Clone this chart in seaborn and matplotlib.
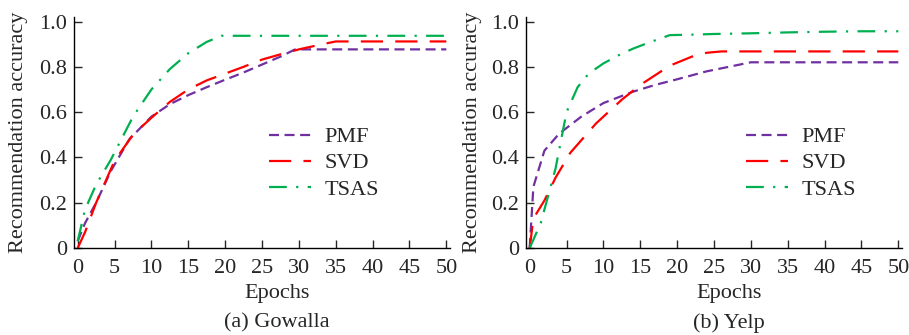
import matplotlib
matplotlib.use('Agg')
import matplotlib.pyplot as plt
import seaborn as sns

# --- Data ---
GOWALLA_PMF_X = [0, 1, 2.5, 4.5, 7, 10, 12.5, 15, 17.5, 20, 22.5, 25, 27.5, 29.5, 35, 40, 45, 50]
GOWALLA_PMF_Y = [0.03, 0.11, 0.2, 0.34, 0.48, 0.58, 0.635, 0.675, 0.71, 0.743, 0.775, 0.81, 0.845, 0.877, 0.877, 0.877, 0.877, 0.877]

GOWALLA_SVD_X = [0, 1, 2.5, 5, 7.5, 10, 12.5, 15, 17.5, 20, 22.5, 25, 27.5, 30, 32.5, 35, 40, 45, 50]
GOWALLA_SVD_Y = [0.0, 0.07, 0.2, 0.385, 0.5, 0.575, 0.645, 0.7, 0.74, 0.77, 0.8, 0.832, 0.855, 0.877, 0.895, 0.912, 0.912, 0.912, 0.912]

GOWALLA_TSAS_X = [0, 1, 2.5, 4.5, 7.5, 10, 12.5, 15, 17.5, 19.5, 25, 30, 35, 40, 45, 50]
GOWALLA_TSAS_Y = [0.03, 0.17, 0.28, 0.39, 0.58, 0.7, 0.79, 0.86, 0.91, 0.937, 0.937, 0.937, 0.937, 0.937, 0.937, 0.937]

YELP_PMF_X = [0, 0.5, 2, 4, 7, 10, 14, 17, 20, 24, 27, 30, 35, 40, 45, 50]
YELP_PMF_Y = [0.0, 0.27, 0.43, 0.505, 0.58, 0.64, 0.69, 0.72, 0.745, 0.78, 0.8, 0.82, 0.82, 0.82, 0.82, 0.82]

YELP_SVD_X = [0, 0.5, 2, 3.5, 5.5, 9, 12.5, 15, 19, 22, 24, 26, 30, 35, 40, 45, 50]
YELP_SVD_Y = [0.0, 0.13, 0.21, 0.31, 0.42, 0.55, 0.655, 0.72, 0.805, 0.845, 0.862, 0.868, 0.868, 0.868, 0.868, 0.868, 0.868]

YELP_TSAS_X = [0, 1.5, 3.5, 5, 6.5, 8, 10, 12, 14, 16, 19, 22, 25, 30, 35, 40, 45, 50]
YELP_TSAS_Y = [0.0, 0.11, 0.35, 0.6, 0.71, 0.77, 0.815, 0.85, 0.88, 0.905, 0.94, 0.942, 0.945, 0.948, 0.952, 0.955, 0.957, 0.957]

SERIES_NAMES = ['PMF', 'SVD', 'TSAS']
PANEL_TITLES = ['(a) Gowalla', '(b) Yelp']
X_TICKS = [0, 5, 10, 15, 20, 25, 30, 35, 40, 45, 50]
Y_TICKS = [0, 0.2, 0.4, 0.6, 0.8, 1.0]
Y_TICK_LABELS = ['0', '0.2', '0.4', '0.6', '0.8', '1.0']

COLORS = {'PMF': '#7030A0', 'SVD': '#FF0000', 'TSAS': '#00B050'}
STYLES = {'PMF': (0, (4.5, 2.5)), 'SVD': (0, (10, 5.5)), 'TSAS': (0, (8, 4.2, 1, 4.2))}

sns.set_style('ticks')
plt.rcParams['font.family'] = ['Liberation Serif', 'DejaVu Serif']
plt.rcParams['font.size'] = 16

fig = plt.figure(figsize=(9.09, 3.35), dpi=100)
ax_left = fig.add_axes([74 / 909, 1 - 248 / 335, 376 / 909, 231 / 335])
ax_right = fig.add_axes([526 / 909, 1 - 248 / 335, 376 / 909, 231 / 335])

panels = [
    (ax_left, {'PMF': (GOWALLA_PMF_X, GOWALLA_PMF_Y),
               'SVD': (GOWALLA_SVD_X, GOWALLA_SVD_Y),
               'TSAS': (GOWALLA_TSAS_X, GOWALLA_TSAS_Y)}, 0.519, -0.122),
    (ax_right, {'PMF': (YELP_PMF_X, YELP_PMF_Y),
                'SVD': (YELP_SVD_X, YELP_SVD_Y),
                'TSAS': (YELP_TSAS_X, YELP_TSAS_Y)}, 0.585, -0.117),
]

for i, (ax, data, leg_x, ylab_x) in enumerate(panels):
    for name in SERIES_NAMES:
        xs, ys = data[name]
        sns.lineplot(x=xs, y=ys, ax=ax, color=COLORS[name], linestyle=STYLES[name],
                     linewidth=1.6, label=name)

    ax.set_xlim(-0.5, 50.5)
    ax.set_ylim(0, 1.02)
    ax.set_xticks(X_TICKS)
    ax.set_yticks(Y_TICKS)
    ax.set_yticklabels(Y_TICK_LABELS)
    ax.tick_params(direction='in', length=6, width=1, labelsize=16)
    ax.tick_params(axis='x', pad=8)
    ax.tick_params(axis='y', pad=5)
    sns.despine(ax=ax)
    for side in ['left', 'bottom']:
        ax.spines[side].set_linewidth(1)
        ax.spines[side].set_color('black')

    ax.set_xlabel('Epochs', fontsize=16)
    ax.xaxis.set_label_coords(0.54, -0.155)
    ax.set_ylabel('Recommendation accuracy', fontsize=16)
    ax.yaxis.set_label_coords(ylab_x, 0.5)
    ax.text(0.54, -0.325, PANEL_TITLES[i], transform=ax.transAxes,
            ha='center', va='center', fontsize=16)

    ax.legend(loc='upper left', bbox_to_anchor=(leg_x, 0.525), frameon=False,
              borderaxespad=0, borderpad=0, handlelength=1.9,
              handletextpad=0.6, labelspacing=0.25, fontsize=16)

fig.savefig('out.png', dpi=100)
